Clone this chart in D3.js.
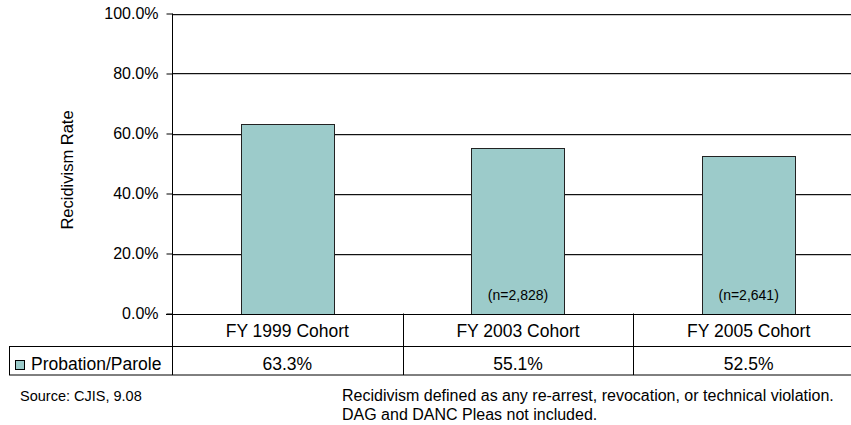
<!DOCTYPE html>
<html>
<head>
<meta charset="utf-8">
<script src="https://cdn.jsdelivr.net/npm/d3@7"></script>
<style>
  html, body { margin: 0; padding: 0; background: #fff; }
  svg { display: block; font-family: "Liberation Sans", Arial, sans-serif; }
</style>
</head>
<body>
<svg id="chart" width="851" height="425"></svg>
<script>
// Recidivism rates by cohort
const categories = ["FY 1999 Cohort", "FY 2003 Cohort", "FY 2005 Cohort"];
const seriesName = "Probation/Parole";
const rates = [63.3, 55.1, 52.5];
const cohortSizes = ["", "(n=2,828)", "(n=2,641)"];
const yTicks = [0, 20, 40, 60, 80, 100];
const sourceNote = "Source: CJIS, 9.08";
const definitionNotes = [
  "Recidivism defined as any re-arrest, revocation, or technical violation.",
  "DAG and DANC Pleas not included."
];

const svg = d3.select("#chart");
const plot = { left: 172, right: 864, top: 13.5, bottom: 313.5 };
const tableRow1 = 346.5, tableBottom = 375, tableLeft = 9;
const barColor = "#9ccbca";

const x = d3.scaleBand().domain(categories).range([plot.left, plot.right]).padding(0);
const y = d3.scaleLinear().domain([0, 100]).range([plot.bottom, plot.top]);
const barW = x.bandwidth() * 0.405;

// gridlines (dark line with a soft grey edge below)
const grid = svg.append("g");
grid.selectAll("line.soft").data(yTicks.filter(d => d > 0)).join("line")
  .attr("class", "soft")
  .attr("x1", plot.left).attr("x2", plot.right)
  .attr("y1", d => Math.round(y(d)) + 1.5).attr("y2", d => Math.round(y(d)) + 1.5)
  .attr("stroke", "#c8c8c8").attr("stroke-width", 1);
grid.selectAll("line.main").data(yTicks.filter(d => d > 0)).join("line")
  .attr("class", "main")
  .attr("x1", plot.left).attr("x2", plot.right)
  .attr("y1", d => Math.round(y(d)) + 0.5).attr("y2", d => Math.round(y(d)) + 0.5)
  .attr("stroke", "#111").attr("stroke-width", 1);

// bars
svg.append("g").selectAll("rect").data(rates).join("rect")
  .attr("x", (d, i) => Math.round(x(categories[i]) + (x.bandwidth() - barW) / 2) + 0.5)
  .attr("y", d => Math.round(y(d)) + 0.5)
  .attr("width", Math.round(barW))
  .attr("height", d => Math.round(y(0)) - Math.round(y(d)))
  .attr("fill", barColor)
  .attr("stroke", "#222").attr("stroke-width", 1);

// cohort size labels inside bars
svg.append("g").selectAll("text").data(cohortSizes).join("text")
  .attr("x", (d, i) => x(categories[i]) + x.bandwidth() / 2)
  .attr("y", 300)
  .attr("text-anchor", "middle")
  .attr("font-size", 14)
  .attr("fill", "#000")
  .text(d => d);

// y axis
const yAxis = d3.axisLeft(y).tickValues(yTicks).tickSize(6).tickPadding(8)
  .tickFormat(d => d.toFixed(1) + "%");
const ya = svg.append("g").attr("transform", `translate(${plot.left + 0.5},0)`).call(yAxis);
ya.select(".domain").remove();
ya.selectAll(".tick line").attr("stroke", "#000");
ya.selectAll(".tick text").attr("font-size", 16).attr("font-family", "Liberation Sans, Arial, sans-serif")
  .attr("fill", "#000");

// axis line extends down through the table
svg.append("line")
  .attr("x1", plot.left + 0.5).attr("x2", plot.left + 0.5)
  .attr("y1", plot.top).attr("y2", tableBottom)
  .attr("stroke", "#000");

// baseline
svg.append("line")
  .attr("x1", plot.left - 6).attr("x2", plot.right)
  .attr("y1", Math.round(y(0)) + 0.5).attr("y2", Math.round(y(0)) + 0.5)
  .attr("stroke", "#000");

// y title
svg.append("text")
  .attr("transform", `translate(73,170) rotate(-90)`)
  .attr("text-anchor", "middle")
  .attr("font-size", 16.5)
  .attr("fill", "#000")
  .text("Recidivism Rate");

// data table
const table = svg.append("g");
[tableRow1, tableBottom].forEach(yy => {
  table.append("line").attr("x1", tableLeft).attr("x2", plot.right)
    .attr("y1", yy).attr("y2", yy).attr("stroke", "#000");
});
table.append("line").attr("x1", tableLeft + 0.5).attr("x2", tableLeft + 0.5)
  .attr("y1", tableRow1).attr("y2", tableBottom).attr("stroke", "#000");
table.selectAll(".div").data(categories.slice(1)).join("line")
  .attr("class", "div")
  .attr("x1", d => Math.round(x(d)) + 0.5).attr("x2", d => Math.round(x(d)) + 0.5)
  .attr("y1", y(0)).attr("y2", tableBottom).attr("stroke", "#000");

table.selectAll(".cat").data(categories).join("text")
  .attr("class", "cat")
  .attr("x", d => x(d) + x.bandwidth() / 2)
  .attr("y", 337)
  .attr("text-anchor", "middle")
  .attr("font-size", 17.5)
  .text(d => d);

table.selectAll(".val").data(rates).join("text")
  .attr("class", "val")
  .attr("x", (d, i) => x(categories[i]) + x.bandwidth() / 2)
  .attr("y", 370)
  .attr("text-anchor", "middle")
  .attr("font-size", 17.5)
  .text(d => d.toFixed(1) + "%");

// legend key
table.append("rect")
  .attr("x", 15.5).attr("y", 360.5).attr("width", 9).attr("height", 9)
  .attr("fill", barColor).attr("stroke", "#000");
table.append("text")
  .attr("x", 31).attr("y", 370)
  .attr("font-size", 17.5)
  .text(seriesName);

// notes
svg.append("text")
  .attr("x", 20).attr("y", 401)
  .attr("font-size", 14.5)
  .text(sourceNote);
svg.append("g").selectAll("text").data(definitionNotes).join("text")
  .attr("x", 342)
  .attr("y", (d, i) => 401 + i * 19)
  .attr("font-size", 16)
  .text(d => d);
</script>
</body>
</html>
